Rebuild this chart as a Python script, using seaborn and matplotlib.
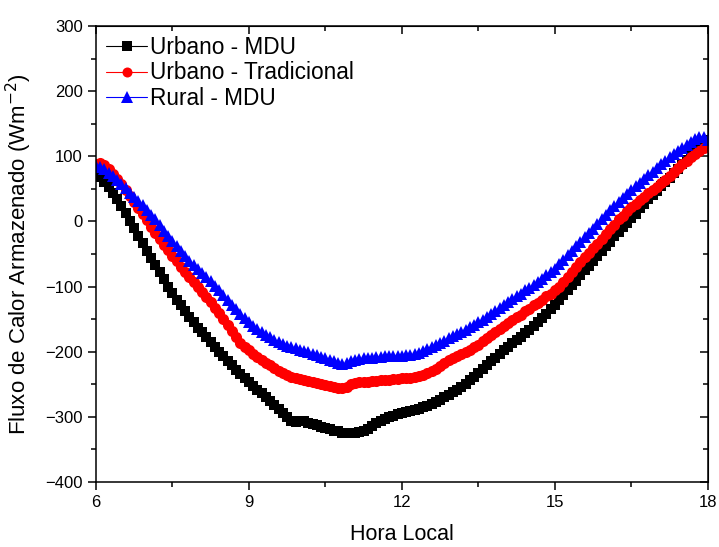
"""Fluxo de calor armazenado: Urbano MDU vs Urbano Tradicional vs Rural MDU."""

import numpy as np
import pandas as pd
import matplotlib
matplotlib.use("Agg")
import matplotlib.pyplot as plt
from matplotlib.ticker import MultipleLocator
import seaborn as sns

# 5-minute values from 06:00 to 18:00 (one row per hour)
urbano_mdu = [
    72, 68, 61, 53, 44, 34, 24, 13, 1, -10, -22, -33,
    -45, -56, -67, -78, -89, -100, -110, -120, -129, -138, -147, -155,
    -163, -170, -178, -185, -192, -200, -207, -214, -221, -228, -234, -241,
    -247, -252, -258, -264, -270, -276, -282, -288, -294, -300, -306, -308,
    -307, -307, -309, -311, -313, -315, -317, -319, -321, -322, -324, -325,
    -324, -324, -323, -322, -318, -314, -310, -306, -303, -300, -298, -296,
    -294, -293, -291, -290, -288, -285, -283, -280, -277, -274, -270, -266,
    -262, -258, -254, -249, -244, -239, -233, -227, -221, -215, -209, -204,
    -198, -193, -187, -182, -177, -171, -166, -160, -155, -149, -142, -135,
    -128, -121, -113, -106, -98, -91, -83, -75, -68, -60, -53, -45,
    -38, -31, -23, -16, -9, -2, 5, 12, 20, 27, 34, 40,
    47, 54, 60, 67, 74, 81, 88, 95, 103, 110, 115, 120,
    125,
]
urbano_trad = [
    88, 90, 86, 80, 73, 65, 57, 48, 39, 30, 21, 11,
    2, -8, -17, -27, -36, -44, -53, -61, -70, -78, -85, -93,
    -100, -108, -116, -124, -133, -141, -150, -159, -168, -178, -186, -192,
    -198, -203, -208, -213, -217, -221, -225, -229, -233, -236, -239, -241,
    -242, -243, -245, -246, -248, -250, -251, -253, -254, -255, -256, -254,
    -249, -248, -247, -246, -246, -245, -245, -244, -244, -243, -242, -242,
    -241, -240, -240, -239, -237, -235, -233, -230, -226, -222, -217, -213,
    -210, -207, -203, -200, -197, -193, -189, -184, -179, -174, -169, -165,
    -160, -156, -151, -147, -143, -138, -134, -129, -125, -120, -115, -111,
    -106, -100, -93, -86, -78, -70, -62, -55, -48, -41, -34, -27,
    -20, -12, -5, 3, 9, 16, 22, 27, 33, 38, 43, 48,
    53, 59, 64, 70, 76, 82, 88, 93, 99, 104, 108, 112,
    115,
]
rural_mdu = [
    85, 84, 80, 75, 69, 63, 57, 51, 44, 38, 31, 25,
    18, 10, 3, -5, -14, -22, -30, -38, -46, -53, -60, -67,
    -73, -79, -86, -92, -99, -106, -113, -120, -128, -135, -142, -149,
    -155, -160, -165, -170, -174, -178, -182, -185, -188, -191, -193, -195,
    -197, -199, -201, -203, -205, -208, -210, -212, -214, -217, -219, -218,
    -214, -212, -211, -210, -209, -209, -208, -208, -207, -207, -207, -206,
    -206, -205, -205, -204, -202, -199, -196, -193, -190, -186, -183, -179,
    -176, -173, -169, -166, -162, -159, -155, -151, -146, -142, -137, -133,
    -128, -124, -119, -115, -111, -106, -102, -97, -93, -88, -83, -78,
    -73, -66, -59, -52, -45, -38, -31, -24, -18, -11, -4, 3,
    10, 17, 24, 30, 36, 42, 48, 54, 59, 65, 71, 76,
    82, 88, 93, 99, 104, 108, 113, 118, 122, 127, 130, 129,
    125,
]
hora = np.arange(len(urbano_mdu)) * 5 / 60 + 6

series = [
    ("Urbano - MDU", urbano_mdu, "black", "s", 7.5),
    ("Urbano - Tradicional", urbano_trad, "red", "o", 8.0),
    ("Rural - MDU", rural_mdu, "blue", "^", 9.0),
]

sns.set_style("ticks")
plt.rcParams["font.family"] = ["Liberation Sans", "DejaVu Sans"]
for key in ["text.color", "axes.labelcolor", "xtick.color", "ytick.color", "axes.edgecolor"]:
    plt.rcParams[key] = "black"

fig = plt.figure(figsize=(7.19, 5.47), dpi=100)
ax = fig.add_axes([0.1335, 0.1188, 0.8512, 0.8337])

for name, vals, color, marker, ms in series:
    df = pd.DataFrame({"hora": hora, "fluxo": vals})
    sns.lineplot(data=df, x="hora", y="fluxo", ax=ax, color=color, marker=marker,
                 markersize=ms, markeredgewidth=0, linewidth=0.8, label=name)

ax.set_xlim(6, 18)
ax.set_ylim(-400, 300)
ax.xaxis.set_major_locator(MultipleLocator(3))
ax.xaxis.set_minor_locator(MultipleLocator(1.5))
ax.yaxis.set_major_locator(MultipleLocator(100))
ax.yaxis.set_minor_locator(MultipleLocator(50))
ax.tick_params(which="both", direction="out", width=1.1, labelsize=12)
ax.tick_params(which="major", length=6)
ax.tick_params(which="minor", length=3.5)
for sp in ax.spines.values():
    sp.set_linewidth(1.1)

# mirrored inward ticks on top and right
secx = ax.secondary_xaxis("top")
secx.xaxis.set_major_locator(MultipleLocator(3))
secx.xaxis.set_minor_locator(MultipleLocator(1.5))
secx.tick_params(which="both", direction="in", labeltop=False, width=1.1)
secx.tick_params(which="major", length=6)
secx.tick_params(which="minor", length=3.5)
secy = ax.secondary_yaxis("right")
secy.yaxis.set_major_locator(MultipleLocator(100))
secy.yaxis.set_minor_locator(MultipleLocator(50))
secy.tick_params(which="both", direction="in", labelright=False, width=1.1)
secy.tick_params(which="major", length=6)
secy.tick_params(which="minor", length=3.5)

ax.set_xlabel("Hora Local", fontsize=15.5, labelpad=10)
ax.set_ylabel("Fluxo de Calor Armazenado (Wm$^{-2}$)", fontsize=16, labelpad=8)

ax.legend(loc="upper left", frameon=False, fontsize=16.3, handlelength=1.8,
          handletextpad=0.15, labelspacing=0.1, borderaxespad=0.05,
          markerscale=0.9, bbox_to_anchor=(0.0, 1.0))

fig.savefig("out.png", dpi=100)
